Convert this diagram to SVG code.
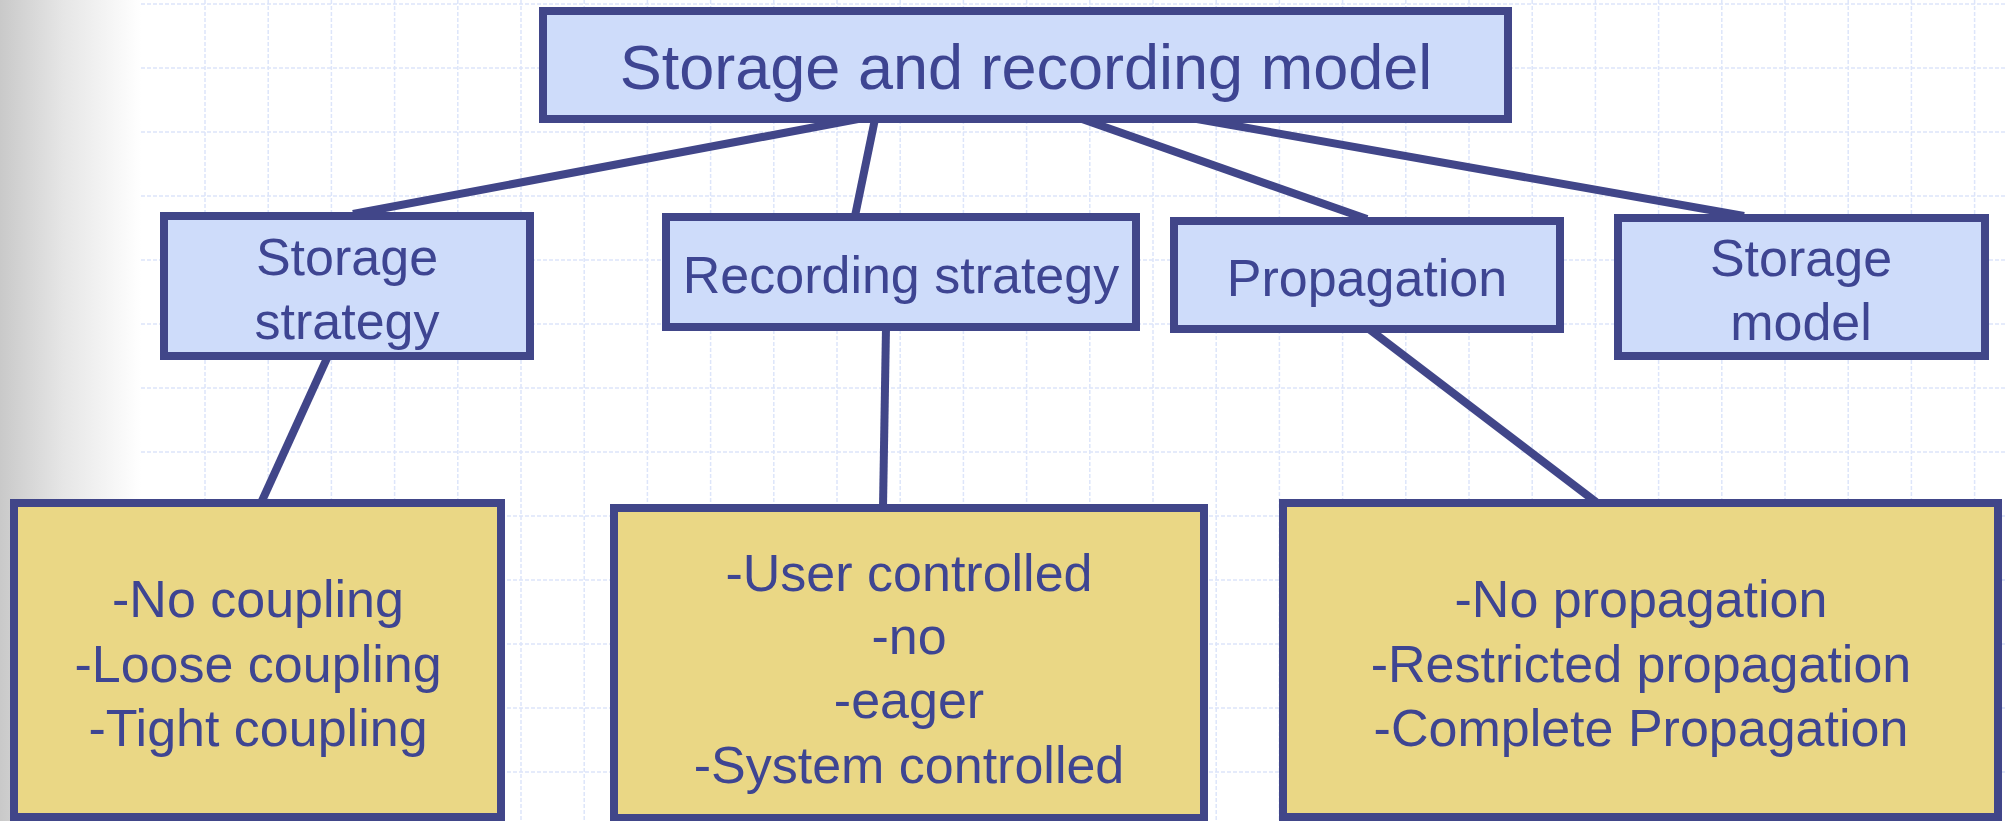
<svg xmlns="http://www.w3.org/2000/svg" width="2006" height="821" viewBox="0 0 2006 821">
<defs>
<linearGradient id="lg" x1="0" y1="0" x2="1" y2="0">
<stop offset="0" stop-color="#c9c9c9"/>
<stop offset="0.45" stop-color="#e6e6e6"/>
<stop offset="1" stop-color="#ffffff"/>
</linearGradient>
<style>
.grid line{stroke:#dde5fa;stroke-width:1.5;stroke-dasharray:4 2}
.blue{fill:#cedcfa;stroke:#414689;stroke-width:8}
.yel{fill:#ead785;stroke:#414689;stroke-width:8}
.conn line{stroke:#414689;stroke-width:8;stroke-linecap:butt}
text{font-family:"Liberation Sans",Arial,sans-serif;fill:#3e4592;text-anchor:middle;font-size:52px}
.big{font-size:63px}
</style>
</defs>
<rect x="0" y="0" width="2006" height="821" fill="#ffffff"/>
<rect x="0" y="0" width="141" height="821" fill="url(#lg)"/>
<g class="grid">
<line x1="141" y1="4" x2="2006" y2="4"/>
<line x1="141" y1="68" x2="2006" y2="68"/>
<line x1="141" y1="132" x2="2006" y2="132"/>
<line x1="141" y1="196" x2="2006" y2="196"/>
<line x1="141" y1="260" x2="2006" y2="260"/>
<line x1="141" y1="324" x2="2006" y2="324"/>
<line x1="141" y1="388" x2="2006" y2="388"/>
<line x1="141" y1="452" x2="2006" y2="452"/>
<line x1="141" y1="516" x2="2006" y2="516"/>
<line x1="141" y1="580" x2="2006" y2="580"/>
<line x1="141" y1="644" x2="2006" y2="644"/>
<line x1="141" y1="708" x2="2006" y2="708"/>
<line x1="141" y1="772" x2="2006" y2="772"/>
<line x1="205" y1="0" x2="205" y2="821"/>
<line x1="268.2" y1="0" x2="268.2" y2="821"/>
<line x1="331.4" y1="0" x2="331.4" y2="821"/>
<line x1="394.6" y1="0" x2="394.6" y2="821"/>
<line x1="457.8" y1="0" x2="457.8" y2="821"/>
<line x1="521" y1="0" x2="521" y2="821"/>
<line x1="584.2" y1="0" x2="584.2" y2="821"/>
<line x1="647.4" y1="0" x2="647.4" y2="821"/>
<line x1="710.6" y1="0" x2="710.6" y2="821"/>
<line x1="773.8" y1="0" x2="773.8" y2="821"/>
<line x1="837" y1="0" x2="837" y2="821"/>
<line x1="900.2" y1="0" x2="900.2" y2="821"/>
<line x1="963.4" y1="0" x2="963.4" y2="821"/>
<line x1="1026.6" y1="0" x2="1026.6" y2="821"/>
<line x1="1089.8" y1="0" x2="1089.8" y2="821"/>
<line x1="1153" y1="0" x2="1153" y2="821"/>
<line x1="1216.2" y1="0" x2="1216.2" y2="821"/>
<line x1="1279.4" y1="0" x2="1279.4" y2="821"/>
<line x1="1342.6" y1="0" x2="1342.6" y2="821"/>
<line x1="1405.8" y1="0" x2="1405.8" y2="821"/>
<line x1="1469" y1="0" x2="1469" y2="821"/>
<line x1="1532.2" y1="0" x2="1532.2" y2="821"/>
<line x1="1595.4" y1="0" x2="1595.4" y2="821"/>
<line x1="1658.6" y1="0" x2="1658.6" y2="821"/>
<line x1="1721.8" y1="0" x2="1721.8" y2="821"/>
<line x1="1785" y1="0" x2="1785" y2="821"/>
<line x1="1848.2" y1="0" x2="1848.2" y2="821"/>
<line x1="1911.4" y1="0" x2="1911.4" y2="821"/>
<line x1="1974.6" y1="0" x2="1974.6" y2="821"/>
</g>
<g id="connectors" class="conn">
<line x1="858" y1="119" x2="353" y2="214"/>
<line x1="875" y1="119" x2="855" y2="216"/>
<line x1="1082" y1="119" x2="1367" y2="219"/>
<line x1="1197" y1="119" x2="1744" y2="216"/>
<line x1="328" y1="356" x2="261" y2="503"/>
<line x1="886" y1="327" x2="883" y2="507"/>
<line x1="1369" y1="329" x2="1596" y2="502"/>
</g>
<g id="root">
<rect class="blue" x="543" y="11" width="965" height="108"/>
<text class="big" x="1026" y="89">Storage and recording model</text>
</g>
<g id="storage-strategy">
<rect class="blue" x="164" y="216" width="366" height="140"/>
<text x="347" y="275">Storage</text>
<text x="347" y="339">strategy</text>
</g>
<g id="recording-strategy">
<rect class="blue" x="666" y="217" width="470" height="110"/>
<text x="901" y="293">Recording strategy</text>
</g>
<g id="propagation">
<rect class="blue" x="1174" y="221" width="386" height="108"/>
<text x="1367" y="296">Propagation</text>
</g>
<g id="storage-model">
<rect class="blue" x="1618" y="218" width="367" height="138"/>
<text x="1801" y="276">Storage</text>
<text x="1801" y="340">model</text>
</g>
<g id="coupling">
<rect class="yel" x="14" y="503" width="487" height="314"/>
<text x="258" y="617">-No coupling</text>
<text x="258" y="682">-Loose coupling</text>
<text x="258" y="746">-Tight coupling</text>
</g>
<g id="recording-options">
<rect class="yel" x="614" y="508" width="590" height="310"/>
<text x="909" y="591">-User controlled</text>
<text x="909" y="654">-no</text>
<text x="909" y="718">-eager</text>
<text x="909" y="783">-System controlled</text>
</g>
<g id="propagation-options">
<rect class="yel" x="1283" y="503" width="715" height="314"/>
<text x="1641" y="617">-No propagation</text>
<text x="1641" y="682">-Restricted propagation</text>
<text x="1641" y="746">-Complete Propagation</text>
</g>
</svg>
